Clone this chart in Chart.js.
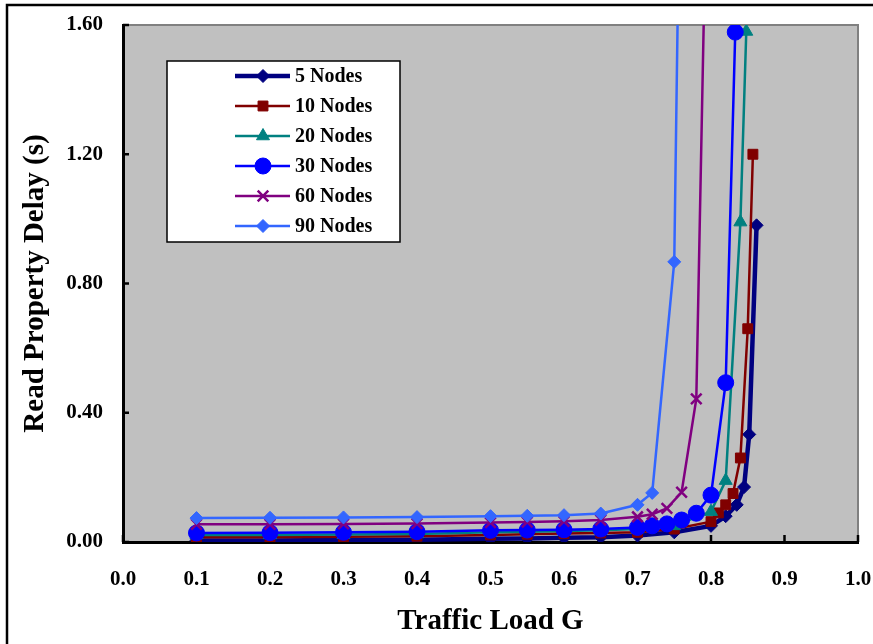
<!DOCTYPE html>
<html><head><meta charset="utf-8">
<script src="https://cdn.jsdelivr.net/npm/chart.js@4/dist/chart.umd.min.js"></script>
<style>html,body{margin:0;padding:0;background:#fff;} canvas{display:block;}</style>
</head><body>
<canvas id="c" width="873" height="644"></canvas>
<script>
const seriesNames = ['5 Nodes','10 Nodes','20 Nodes','30 Nodes','60 Nodes','90 Nodes'];
const xTickValues = [0,0.1,0.2,0.3,0.4,0.5,0.6,0.7,0.8,0.9,1.0];
const yTickValues = [0,0.4,0.8,1.2,1.6];

const load5  = [0.1,0.2,0.3,0.4,0.5,0.55,0.6,0.65,0.7,0.75,0.8,0.82,0.835,0.845,0.852,0.862];
const delay5 = [0.005,0.005,0.006,0.007,0.01,0.011,0.013,0.015,0.02,0.03,0.05,0.08,0.115,0.17,0.333,0.98];

const load10  = [0.1,0.2,0.3,0.4,0.5,0.55,0.6,0.65,0.7,0.75,0.8,0.81,0.82,0.83,0.84,0.85,0.857];
const delay10 = [0.015,0.015,0.016,0.018,0.022,0.024,0.026,0.028,0.03,0.04,0.063,0.09,0.115,0.15,0.26,0.66,1.2];

const load20  = [0.1,0.2,0.3,0.4,0.5,0.55,0.6,0.65,0.7,0.75,0.8,0.82,0.84,0.848];
const delay20 = [0.022,0.022,0.023,0.025,0.03,0.032,0.034,0.036,0.04,0.05,0.094,0.19,0.99,1.58];

const load30  = [0.1,0.2,0.3,0.4,0.5,0.55,0.6,0.65,0.7,0.72,0.74,0.76,0.78,0.8,0.82,0.833];
const delay30 = [0.028,0.029,0.03,0.032,0.036,0.037,0.038,0.04,0.045,0.05,0.056,0.068,0.089,0.145,0.493,1.578];

const load60  = [0.1,0.2,0.3,0.4,0.5,0.55,0.6,0.65,0.7,0.72,0.74,0.76,0.78,0.8];
const delay60 = [0.055,0.055,0.056,0.057,0.06,0.062,0.064,0.068,0.078,0.086,0.104,0.154,0.443,2.75];

const load90  = [0.1,0.2,0.3,0.4,0.5,0.55,0.6,0.65,0.7,0.72,0.75,0.76];
const delay90 = [0.074,0.075,0.076,0.077,0.08,0.081,0.083,0.088,0.115,0.152,0.867,2.5];

const colors = ['#000080','#800000','#008080','#0000FF','#800080','#3366FF'];
const styles = ['rectRot','rect','triangle','circle','crossRot','rectRot'];
const radii = [6.5,7,7.5,8,7.5,6.5];
const widths = [4.5,2.5,2.5,2.5,2.5,2.5];

const loads = [load5,load10,load20,load30,load60,load90];
const delays = [delay5,delay10,delay20,delay30,delay60,delay90];

const FONT = '"Liberation Serif", "Times New Roman", serif';

const datasets = seriesNames.map((name,i)=>({
  label: name,
  data: loads[i].map((x,j)=>({x:x, y:delays[i][j]})),
  borderColor: colors[i],
  backgroundColor: colors[i],
  borderWidth: widths[i],
  pointStyle: styles[i],
  pointRadius: radii[i],
  pointBorderWidth: styles[i]==='crossRot' ? 2.5 : 1,
  pointBorderColor: colors[i],
  pointBackgroundColor: colors[i],
  showLine: true,
  tension: 0,
  order: seriesNames.length - i
}));

const framePlugin = {
  id: 'frame',
  beforeDraw(chart){
    const {ctx, chartArea:a} = chart;
    ctx.save();
    ctx.fillStyle = '#fff';
    ctx.fillRect(0,0,chart.width,chart.height);
    ctx.strokeStyle = '#000';
    ctx.lineWidth = 2.5;
    ctx.strokeRect(7,5,chart.width+20,chart.height+20);
    ctx.fillStyle = '#c0c0c0';
    ctx.fillRect(a.left,a.top,a.right-a.left,a.bottom-a.top);
    ctx.strokeStyle = '#808080';
    ctx.lineWidth = 2;
    ctx.strokeRect(a.left,a.top,a.right-a.left,a.bottom-a.top);
    ctx.restore();
  },
  beforeDatasetsDraw(chart){
    const {ctx, chartArea:a, scales} = chart;
    ctx.save();
    ctx.strokeStyle = '#000';
    ctx.lineWidth = 2.5;
    xTickValues.forEach(v=>{
      const px = scales.x.getPixelForValue(v);
      ctx.beginPath(); ctx.moveTo(px,a.bottom); ctx.lineTo(px,a.bottom-7); ctx.stroke();
    });
    yTickValues.forEach(v=>{
      const py = scales.y.getPixelForValue(v);
      ctx.beginPath(); ctx.moveTo(a.left,py); ctx.lineTo(a.left+6,py); ctx.stroke();
    });
    ctx.restore();
  },
  afterDraw(chart){
    const {ctx} = chart;
    ctx.save();
    const bx=167, by=61, bw=233, bh=181;
    ctx.fillStyle='#fff';
    ctx.fillRect(bx,by,bw,bh);
    ctx.strokeStyle='#000';
    ctx.lineWidth=1.5;
    ctx.strokeRect(bx,by,bw,bh);
    chart.data.datasets.forEach((ds,i)=>{
      const y = 76 + i*30;
      ctx.strokeStyle = ds.borderColor;
      ctx.lineWidth = ds.borderWidth;
      ctx.beginPath(); ctx.moveTo(235,y); ctx.lineTo(290,y); ctx.stroke();
      ctx.fillStyle = ds.pointBackgroundColor;
      ctx.strokeStyle = ds.pointBorderColor;
      ctx.lineWidth = ds.pointBorderWidth;
      Chart.helpers.drawPoint(ctx,{pointStyle:ds.pointStyle, radius:ds.pointRadius, rotation:0, borderWidth:ds.pointBorderWidth},263,y);
      ctx.fillStyle='#000';
      ctx.font = 'bold 20px '+FONT;
      ctx.textBaseline='middle';
      ctx.textAlign='left';
      ctx.fillText(ds.label,295,y+1);
    });
    ctx.restore();
  }
};

new Chart(document.getElementById('c'),{
  type:'scatter',
  data:{datasets},
  plugins:[framePlugin],
  options:{
    responsive:false,
    animation:false,
    devicePixelRatio:1,
    layout:{padding:{left:10,top:25,right:15,bottom:0}},
    plugins:{legend:{display:false},tooltip:{enabled:false}},
    scales:{
      x:{
        type:'linear', min:0, max:1,
        afterBuildTicks(s){ s.ticks = xTickValues.map(v=>({value:v})); },
        afterFit(s){ s.height = 102; s.paddingLeft = 0; s.paddingRight = 0; },
        ticks:{callback:v=>Number(v).toFixed(1), color:'#000', padding:25, maxRotation:0,
               font:{family:FONT, size:21, weight:'bold'}},
        grid:{drawOnChartArea:false, drawTicks:false},
        border:{display:true, color:'#000', width:3},
        title:{display:true, text:'Traffic Load G', color:'#000', padding:{top:0,bottom:5},
               font:{family:FONT, size:29, weight:'bold'}}
      },
      y:{
        type:'linear', min:0, max:1.6,
        afterBuildTicks(s){ s.ticks = yTickValues.map(v=>({value:v})); },
        afterFit(s){ s.width = 113; s.paddingTop = 0; s.paddingBottom = 0; },
        ticks:{callback:v=>Number(v).toFixed(2), color:'#000', padding:20,
               font:{family:FONT, size:21, weight:'bold'}},
        grid:{drawOnChartArea:false, drawTicks:false},
        border:{display:true, color:'#000', width:3},
        title:{display:true, text:'Read Property Delay (s)', color:'#000', padding:{top:8,bottom:0},
               font:{family:FONT, size:29, weight:'bold'}}
      }
    }
  }
});
</script>
</body></html>
